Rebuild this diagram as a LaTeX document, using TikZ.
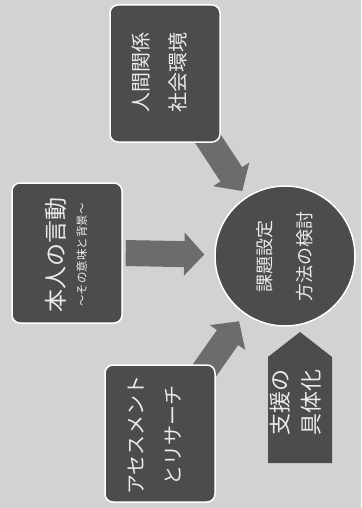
\documentclass[tikz,border=0pt]{standalone}
\usepackage{fontspec}
\setmainfont{Noto Sans CJK JP}
\usetikzlibrary{arrows.meta}
\definecolor{bg}{HTML}{D2D2D2}
\definecolor{boxfill}{HTML}{4C4C4C}
\definecolor{arrowfill}{HTML}{6C6C6C}
\tikzset{
  darkbox/.style={draw=white, line width=1.5pt, fill=boxfill, rounded corners=8pt,
    rotate=90, inner sep=0pt},
  boxtext/.style={rotate=90, text=white!92!black, align=center, inner sep=0pt},
  roundbox/.style={draw=white, line width=1.5pt, fill=boxfill, circle,
    text=white!92!black, align=center, inner sep=0pt, minimum size=140pt},
  blockarrow/.style={draw=arrowfill, line width=26pt,
    -{Triangle[length=20pt, width=42pt]}},
  bigtxt/.style={font=\fontsize{20pt}{37pt}\selectfont},
}
\begin{document}
\begin{tikzpicture}[x=1pt,y=-1pt]
\fill[bg] (0,0) rectangle (361,508);
\useasboundingbox (0,0) rectangle (361,508);

\node[roundbox, rotate=90, font=\fontsize{18pt}{40pt}\selectfont] (circ) at (285,256) {課題設定\\方法の検討};

\coordinate (topc) at (165,73.5);
\coordinate (botc) at (160,433.5);

\draw[blockarrow, shorten >=7pt] (topc) -- (circ);
\draw[blockarrow, shorten >=9pt] (botc) -- (circ);

\node[darkbox, minimum width=137pt, minimum height=110pt] (top) at (topc) {};
\node[boxtext, bigtxt] (toptxt) at (159,73) {人間関係\\社会環境};
\node[darkbox, minimum width=137pt, minimum height=110pt] (bot) at (botc) {};
\node[boxtext, bigtxt] (bottxt) at (155,435) {アセスメント\\とリサーチ};
\node[darkbox, minimum width=140pt, minimum height=110pt] (left) at (67,253) {};
\node[boxtext] (lefttxt) at (66,255)
  {{\fontsize{23pt}{30pt}\selectfont 本人の言動}\\[10pt]{\fontsize{11.5pt}{13pt}\selectfont ～その意味と背景～}};

\draw[blockarrow, shorten <=3pt, shorten >=10pt] (left.south) -- (circ);

\fill[boxfill] (268,463) -- (268,357) -- (300,332) -- (332,357) -- (332,463) -- cycle;
\node[boxtext, font=\fontsize{22pt}{31pt}\selectfont] (spec) at (296,402) {支援の\\具体化};
\end{tikzpicture}
\end{document}
